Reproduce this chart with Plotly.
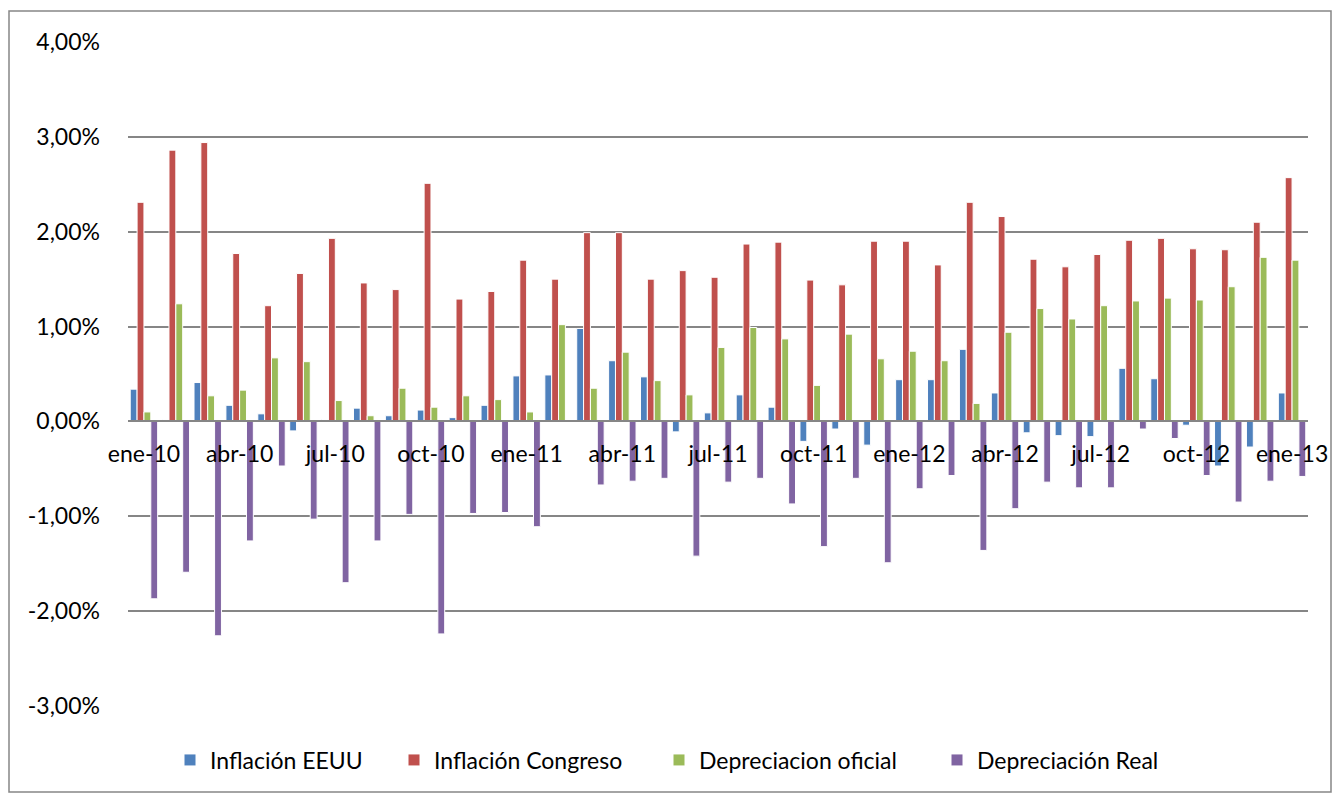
import plotly.graph_objects as go

months = ["ene-10","feb-10","mar-10","abr-10","may-10","jun-10","jul-10","ago-10","sep-10","oct-10","nov-10","dic-10",
          "ene-11","feb-11","mar-11","abr-11","may-11","jun-11","jul-11","ago-11","sep-11","oct-11","nov-11","dic-11",
          "ene-12","feb-12","mar-12","abr-12","may-12","jun-12","jul-12","ago-12","sep-12","oct-12","nov-12","dic-12",
          "ene-13"]

inflacion_eeuu = [0.34, 0.02, 0.41, 0.17, 0.08, -0.10, 0.02, 0.14, 0.06, 0.12, 0.04, 0.17,
                  0.48, 0.49, 0.98, 0.64, 0.47, -0.11, 0.09, 0.28, 0.15, -0.21, -0.08, -0.25,
                  0.44, 0.44, 0.76, 0.30, -0.12, -0.15, -0.16, 0.56, 0.45, -0.04, -0.47, -0.27,
                  0.30]
inflacion_congreso = [2.31, 2.86, 2.94, 1.77, 1.22, 1.56, 1.93, 1.46, 1.39, 2.51, 1.29, 1.37,
                      1.70, 1.50, 1.99, 1.99, 1.50, 1.59, 1.52, 1.87, 1.89, 1.49, 1.44, 1.90,
                      1.90, 1.65, 2.31, 2.16, 1.71, 1.63, 1.76, 1.91, 1.93, 1.82, 1.81, 2.10,
                      2.57]
depreciacion_oficial = [0.10, 1.24, 0.27, 0.33, 0.67, 0.63, 0.22, 0.06, 0.35, 0.15, 0.27, 0.23,
                        0.10, 1.02, 0.35, 0.73, 0.43, 0.28, 0.78, 0.99, 0.87, 0.38, 0.92, 0.66,
                        0.74, 0.64, 0.19, 0.94, 1.19, 1.08, 1.22, 1.27, 1.30, 1.28, 1.42, 1.73,
                        1.70]
depreciacion_real = [-1.87, -1.59, -2.26, -1.26, -0.47, -1.03, -1.70, -1.26, -0.98, -2.24, -0.97, -0.96,
                     -1.11, 0.01, -0.67, -0.63, -0.60, -1.42, -0.64, -0.60, -0.87, -1.32, -0.60, -1.49,
                     -0.71, -0.57, -1.36, -0.92, -0.64, -0.70, -0.70, -0.08, -0.18, -0.57, -0.85, -0.63,
                     -0.58]

tick_labels = ["ene-10","abr-10","jul-10","oct-10","ene-11","abr-11","jul-11","oct-11","ene-12","abr-12","jul-12","oct-12","ene-13"]
y_ticks = [-3, -2, -1, 0, 1, 2, 3, 4]
y_tick_text = ["-3,00%", "-2,00%", "-1,00%", "0,00%", "1,00%", "2,00%", "3,00%", "4,00%"]

series_names = ["Inflación EEUU", "Inflación Congreso", "Depreciacion oficial", "Depreciación Real"]
series_values = [inflacion_eeuu, inflacion_congreso, depreciacion_oficial, depreciacion_real]
series_colors = ["#4F81BD", "#C0504D", "#9BBB59", "#8064A2"]
legend_text_left = [210, 434, 699, 977]   # pixel x where each legend text starts

FONT = "Lato"
FS = 23
W, H = 1333, 793
ml, mr, mt, mb = 128, 25, 42, 87
pw, ph = W - ml - mr, H - mt - mb

fig = go.Figure()
legend_ids = ["legend", "legend2", "legend3", "legend4"]
for name, vals, col, lid in zip(series_names, series_values, series_colors, legend_ids):
    fig.add_trace(go.Bar(x=months, y=vals, name=name, legend=lid,
                         marker=dict(color=col, line=dict(color="white", width=1))))

ymin, ymax = -3, 4
zero_pos = (0 - ymin) / (ymax - ymin)

legend_layouts = {}
for lid, tx in zip(legend_ids, legend_text_left):
    legend_layouts[lid] = dict(orientation="h", xref="container", yref="container",
                               x=(tx - 40) / W, xanchor="left",
                               y=1 - 760 / H, yanchor="middle",
                               font=dict(family=FONT, size=FS), itemwidth=30,
                               bgcolor="rgba(0,0,0,0)", borderwidth=0)

fig.update_layout(
    template="none",
    width=W, height=H,
    margin=dict(l=ml, r=mr, t=mt, b=mb, autoexpand=False),
    paper_bgcolor="white", plot_bgcolor="white",
    barmode="group", bargap=0.14, bargroupgap=0.0,
    font=dict(family=FONT, size=FS, color="black"),
    xaxis=dict(type="category", categoryorder="array", categoryarray=months,
               tickmode="array", tickvals=tick_labels, ticktext=tick_labels,
               anchor="free", position=zero_pos, automargin=False,
               showline=True, linecolor="#868686", linewidth=2,
               showgrid=False, zeroline=False, ticks="", ticklabelstandoff=12,
               tickfont=dict(family=FONT, size=FS), tickangle=0),
    yaxis=dict(range=[ymin, ymax], tickmode="array", tickvals=y_ticks, ticktext=y_tick_text,
               showgrid=True, gridcolor="#868686", gridwidth=1.5,
               zeroline=False, showline=False, ticks="", automargin=False,
               ticklabelstandoff=27,
               tickfont=dict(family=FONT, size=FS)),
    showlegend=True,
    **legend_layouts,
)

# outer chart border
x0 = (9 - ml) / pw
x1 = (1331 - ml) / pw
y0 = (mt + ph - 792) / ph
y1 = (mt + ph - 11) / ph
fig.add_shape(type="rect", xref="paper", yref="paper", x0=x0, x1=x1, y0=y0, y1=y1,
              line=dict(color="#868686", width=1.5), fillcolor="rgba(0,0,0,0)", layer="below")

fig.write_html("out.html", config={"displayModeBar": False},
               post_script="document.body.style.margin='0px';document.body.style.padding='0px';")
